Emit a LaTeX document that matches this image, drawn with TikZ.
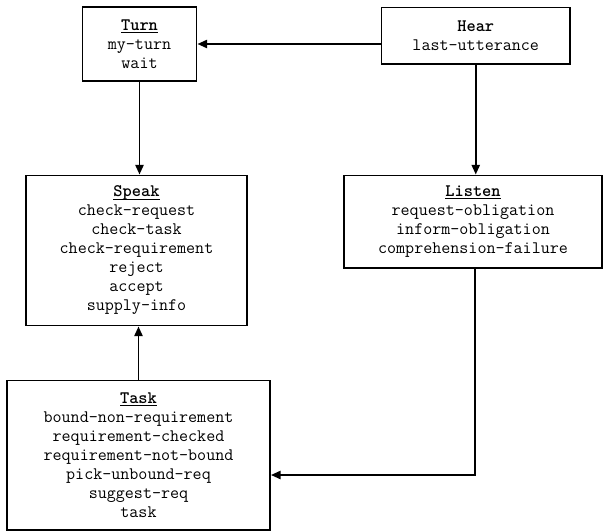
\documentclass[tikz,border=0pt]{standalone}
\usetikzlibrary{positioning,arrows.meta}
\newcommand{\boxtitle}[1]{\underline{\smash{\textbf{#1}}}\vphantom{\textbf{#1}}}

\begin{document}
\begin{tikzpicture}[
		x=0.6667pt,y=-0.6667pt,
		box/.style={
			draw,
			rectangle,
			line width=1.3pt,
			align=center,
			inner sep=4pt,
			font=\ttfamily\fontsize{11.7}{12.67}\selectfont
		},
		link/.style={
			->,
			line width=1.3pt
		},
		>={Triangle[length=6.5pt,width=5.5pt]}
		]
		\useasboundingbox (0,0) rectangle (603,531);
		% Boxes
		\node[box,minimum width=76pt,minimum height=49.7pt] (turn) at (139.5,44)
			{\boxtitle{Turn}\\my-turn\\wait};
		\node[box,minimum width=125.7pt,minimum height=37.7pt] (hear) at (475.75,35.75)
			{\textbf{Hear}\\last-utterance};
		\node[box,minimum width=147.3pt,minimum height=100pt] (speak) at (136.5,250.5)
			{\boxtitle{Speak}\\check-request\\check-task\\check-requirement\\reject\\accept\\supply-info};
		\node[box,minimum width=172pt,minimum height=61.7pt] (listen) at (473,221.75)
			{\boxtitle{Listen}\\request-obligation\\inform-obligation\\comprehension-failure};
		\node[box,minimum width=175.3pt,minimum height=99.7pt] (task) at (138.5,455.25)
			{\boxtitle{Task}\\bound-non-requirement\\requirement-checked\\requirement-not-bound\\pick-unbound-req\\suggest-req\\task};
		% Hear -> Turn, Hear -> Listen
		\draw[link] (hear.west |- turn.east) -- (turn.east);
		\draw[link] (hear.south) -- (hear.south |- listen.north);
		% Turn -> Speak, Task -> Speak
		\draw[link] (turn.south) -- (turn.south |- speak.north);
		\draw[link] (task.north) -- (task.north |- speak.south);
		% Listen -> Task
		\coordinate (bend) at (475,475);
		\draw[link] (bend |- listen.south) -- (bend) -- (bend -| task.east);
\end{tikzpicture}
\end{document}
